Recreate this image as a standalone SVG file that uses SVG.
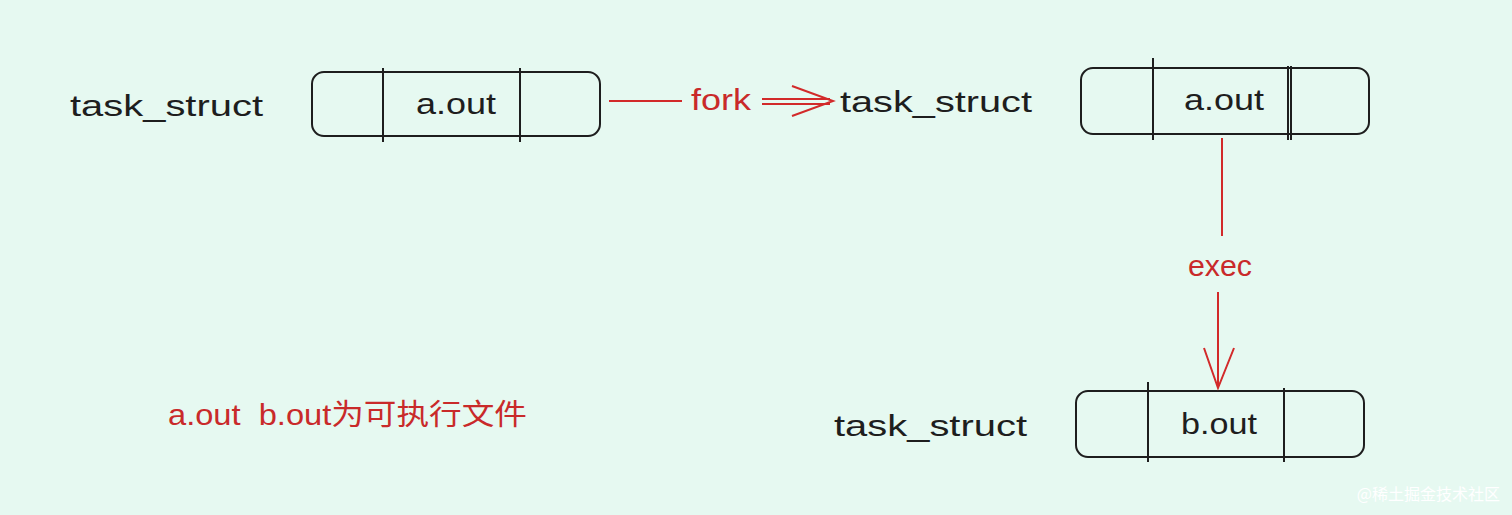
<svg xmlns="http://www.w3.org/2000/svg" width="1512" height="515" viewBox="0 0 1512 515">
<style>
.t{font-family:"Liberation Sans","Noto Sans CJK SC",sans-serif;font-size:29px;fill:#1e1e1e}
.r{fill:#c92a2a}
.box{fill:none;stroke:#1e1e1e;stroke-width:2}
.c{fill:none;stroke:#d22a2a;stroke-width:2}
</style>
<rect width="1512" height="515" fill="#e6f9f1"/>
<g id="n1"><text class="t" x="70" y="116" textLength="193" lengthAdjust="spacingAndGlyphs">task_struct</text>
<rect class="box" x="312" y="72" width="288" height="64" rx="12"/>
<line class="box" x1="383" y1="68" x2="383" y2="142"/><line class="box" x1="520" y1="68" x2="520" y2="142"/>
<text class="t" x="416" y="114" textLength="80" lengthAdjust="spacingAndGlyphs">a.out</text></g>
<g id="n2"><text class="t" x="840" y="112" textLength="192" lengthAdjust="spacingAndGlyphs">task_struct</text>
<rect class="box" x="1081" y="68" width="288" height="66" rx="12"/>
<line class="box" x1="1153" y1="58" x2="1153" y2="140"/><line class="box" x1="1288" y1="66" x2="1288" y2="140"/><line class="box" x1="1291" y1="66" x2="1291" y2="140"/>
<text class="t" x="1184" y="110" textLength="80" lengthAdjust="spacingAndGlyphs">a.out</text></g>
<g id="n3"><text class="t" x="834" y="436" textLength="193" lengthAdjust="spacingAndGlyphs">task_struct</text>
<rect class="box" x="1076" y="391" width="288" height="66" rx="12"/>
<line class="box" x1="1148" y1="382" x2="1148" y2="462"/><line class="box" x1="1284" y1="388" x2="1284" y2="462"/>
<text class="t" x="1181" y="434" textLength="76" lengthAdjust="spacingAndGlyphs">b.out</text></g>
<text class="t r" x="168" y="425" xml:space="preserve" textLength="359" lengthAdjust="spacingAndGlyphs">a.out  b.out为可执行文件</text>
<g id="connectors">
<line class="c" x1="609" y1="101" x2="682" y2="101"/>
<text class="t r" x="691" y="110" textLength="60" lengthAdjust="spacingAndGlyphs">fork</text>
<line class="c" x1="762" y1="99" x2="830" y2="99"/><line class="c" x1="762" y1="104" x2="830" y2="104"/>
<polyline class="c" points="792,86 833,101 792,116"/>
<line class="c" x1="1222" y1="138" x2="1222" y2="236"/>
<text class="t r" x="1188" y="276" textLength="64" lengthAdjust="spacingAndGlyphs">exec</text>
<line class="c" x1="1218" y1="292" x2="1218" y2="388"/>
<polyline class="c" points="1204,348 1218,388 1234,348"/>
</g>
<text x="1500" y="500" text-anchor="end" font-family="Noto Sans CJK SC,sans-serif" font-size="16" fill="#ffffff">@稀土掘金技术社区</text>
</svg>
